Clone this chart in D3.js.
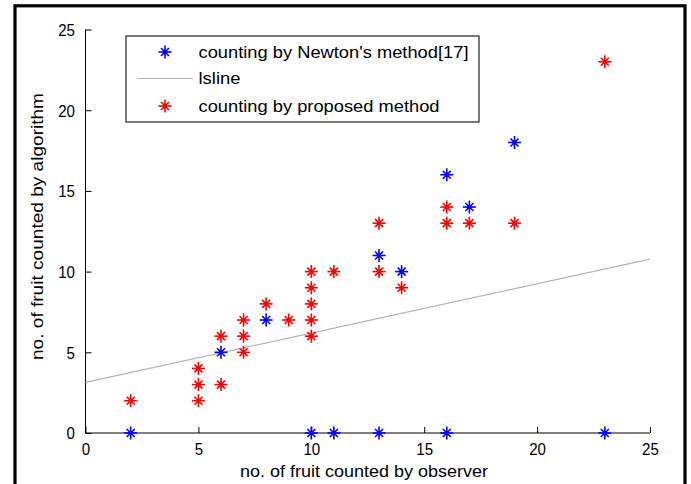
<!DOCTYPE html>
<html><head><meta charset="utf-8">
<script src="https://cdn.jsdelivr.net/npm/d3@7"></script>
<style>body{margin:0;background:#fff}svg{display:block}text{font-family:"Liberation Sans",Arial,sans-serif}</style>
</head><body><svg id="c" width="691" height="484"></svg>
<script>
const xTicks=[0,5,10,15,20,25];
const yTicks=[0,5,10,15,20,25];
const newtonX=[2,6,8,10,11,13,13,14,16,16,17,19,23];
const newtonY=[0,5,7,0,0,0,11,10,16,0,14,18,0];
const proposedX=[2,5,5,5,6,6,7,7,7,8,9,10,10,10,10,10,11,13,13,14,16,16,17,19,23];
const proposedY=[2,4,3,2,6,3,7,6,5,8,7,10,9,8,7,6,10,13,10,9,14,13,13,13,23];
const lslineX=[0,25];
const lslineY=[3.14,10.77];
const legendLabels=["counting by Newton's method[17]","lsline","counting by proposed method"];
const xLabel="no. of fruit counted by observer";
const yLabel="no. of fruit counted by algorithm";

const svg=d3.select("#c");
svg.append("rect").attr("x",15).attr("y",5.8).attr("width",670).attr("height",500)
  .attr("fill","none").attr("stroke","#000").attr("stroke-width",3.2);

const x=d3.scaleLinear().domain([0,25]).range([85.5,650]);
const y=d3.scaleLinear().domain([0,25]).range([433,29.5]);

const g=svg.append("g");
g.append("line").attr("x1",x(0)).attr("x2",x(25)).attr("y1",y(0)).attr("y2",y(0)).attr("stroke","#000");
g.append("line").attr("x1",x(0)).attr("x2",x(0)).attr("y1",y(0)).attr("y2",y(25)).attr("stroke","#000");
const xa=d3.axisBottom(x).tickValues(xTicks).tickSize(-6).tickFormat(d3.format("d"));
const ya=d3.axisLeft(y).tickValues(yTicks).tickSize(-6).tickFormat(d3.format("d"));
const gx=g.append("g").attr("transform",`translate(0,${y(0)})`).call(xa);
const gy=g.append("g").attr("transform",`translate(${x(0)},0)`).call(ya);
[gx,gy].forEach(a=>{a.select(".domain").remove();a.selectAll("line").attr("stroke","#000");
  a.selectAll("text").attr("font-size",17).attr("fill","#000").attr("font-family","Liberation Sans, Arial, sans-serif")
   .attr("lengthAdjust","spacingAndGlyphs").attr("textLength",d=>String(d).length*8.4);});
gx.selectAll("text").attr("dy","0.35em").attr("y",16);
gy.selectAll("text").attr("x",-10.5).attr("dy","0.35em");

g.append("line").attr("x1",x(lslineX[0])).attr("y1",y(lslineY[0])).attr("x2",x(lslineX[1])).attr("y2",y(lslineY[1]))
  .attr("stroke","#b4b4b4").attr("stroke-width",1.2);

function star(sel,cx,cy,color){
  const s=sel.append("g").attr("transform",`translate(${cx},${cy})`).attr("stroke",color).attr("stroke-width",1.6);
  s.append("line").attr("x1",-6.5).attr("x2",6.5).attr("y1",0).attr("y2",0);
  s.append("line").attr("y1",-6.5).attr("y2",6.5).attr("x1",0).attr("x2",0);
  s.append("line").attr("x1",-4).attr("x2",4).attr("y1",-4).attr("y2",4);
  s.append("line").attr("x1",-4).attr("x2",4).attr("y1",4).attr("y2",-4);
  s.append("circle").attr("r",2.2).attr("fill",color).attr("stroke","none");
}
const pts=g.append("g");
proposedX.forEach((v,i)=>star(pts,x(v),y(proposedY[i]),"#ff0000"));
newtonX.forEach((v,i)=>star(pts,x(v),y(newtonY[i]),"#0000ff"));

svg.append("text").attr("x",364).attr("y",477).attr("text-anchor","middle").attr("font-size",16.5)
  .attr("lengthAdjust","spacingAndGlyphs").attr("textLength",248).text(xLabel);
svg.append("text").attr("transform","translate(43,226.5) rotate(-90)").attr("text-anchor","middle").attr("font-size",16.5)
  .attr("lengthAdjust","spacingAndGlyphs").attr("textLength",267).text(yLabel);

const lg=svg.append("g");
lg.append("rect").attr("x",126).attr("y",36).attr("width",353).attr("height",86).attr("fill","#fff").attr("stroke","#333").attr("stroke-width",1.3);
const ly=[52,78.5,106];
const lw=[270,42,241];
star(lg,165,ly[0],"#0000ff");
lg.append("line").attr("x1",137).attr("x2",193).attr("y1",ly[1]).attr("y2",ly[1]).attr("stroke","#b4b4b4").attr("stroke-width",1.2);
star(lg,165,ly[2],"#ff0000");
legendLabels.forEach((t,i)=>lg.append("text").attr("x",198.5).attr("y",ly[i]).attr("dy","0.35em").attr("font-size",16.5)
  .attr("lengthAdjust","spacingAndGlyphs").attr("textLength",lw[i]).text(t));
</script></body></html>
